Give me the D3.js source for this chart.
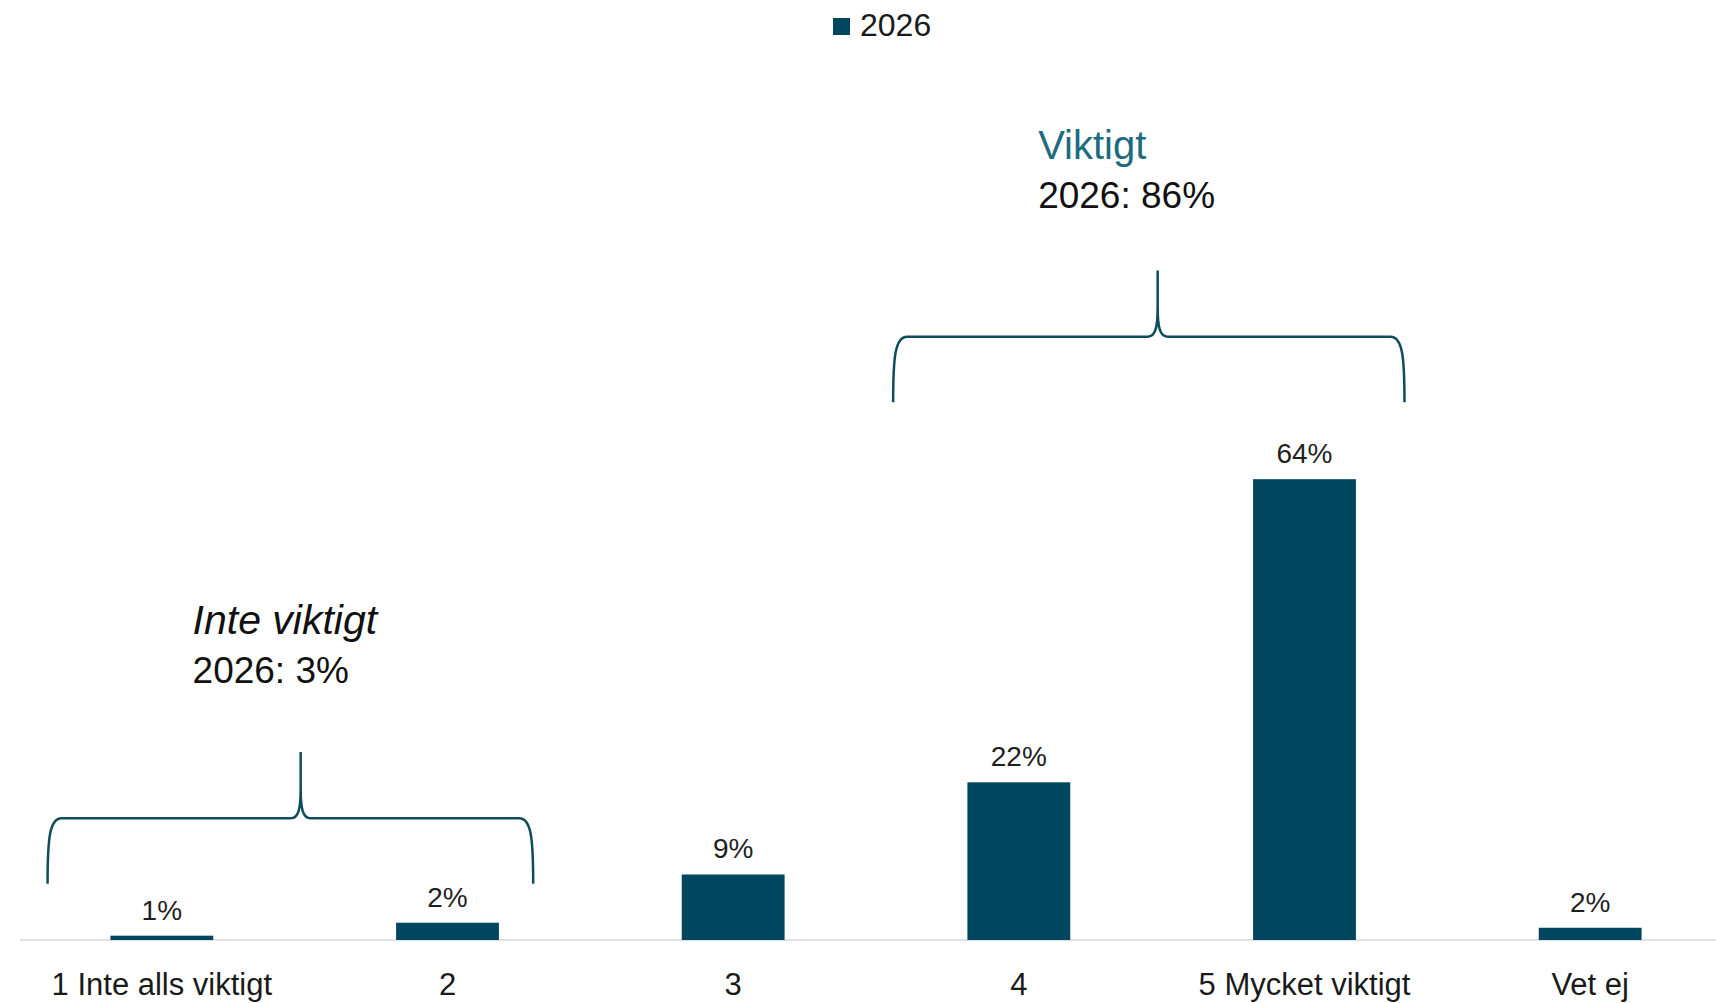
<!DOCTYPE html>
<html>
<head>
<meta charset="utf-8">
<script src="https://cdn.jsdelivr.net/npm/d3@7"></script>
<style>
  html, body { margin: 0; padding: 0; background: #fff; }
  svg { display: block; font-family: "Liberation Sans", Arial, sans-serif; }
</style>
</head>
<body>
<div class="chart"></div>
<script>
var width = 1716,
    height = 1003;

// data
var categories = ["1 Inte alls viktigt", "2", "3", "4", "5 Mycket viktigt", "Vet ej"];
var values2026 = [0.6, 2.4, 9.1, 21.9, 64.0, 1.7];
var valueLabels = ["1%", "2%", "9%", "22%", "64%", "2%"];
var seriesName = "2026";

// grouped annotations (brace over categories)
var groupTitles = ["Inte viktigt", "Viktigt"];
var groupTexts = ["2026: 3%", "2026: 86%"];
var groupFrom = [0, 3];
var groupTo = [1, 4];
var groupBase = [7.8, 74.7];     // brace foot, in % on the y scale
var groupLabelAt = [42.5, 108.5]; // title baseline, in % on the y scale

var barColor = "#00465f",
    braceColor = "#0f4d5c";

var svg = d3.select('.chart')
    .append("svg")
    .attr("width", width)
    .attr("height", height);

var x = d3.scaleBand()
    .domain(categories)
    .range([19, 1733])
    .paddingInner(0.64)
    .paddingOuter(0.32);

var y = d3.scaleLinear()
    .domain([0, 100])
    .range([940, 220]);

var step = x.step();
function xc(i) { return x(categories[i]) + x.bandwidth() / 2; }

// baseline
svg.append("line")
    .attr("x1", 20).attr("x2", width)
    .attr("y1", y(0)).attr("y2", y(0))
    .style("stroke", "#d9d9d9")
    .style("stroke-width", 1.5);

// bars
svg.append("g")
    .selectAll("rect")
    .data(values2026)
    .enter().append("rect")
    .attr("x", function (d, i) { return x(categories[i]); })
    .attr("y", function (d) { return y(d); })
    .attr("width", x.bandwidth())
    .attr("height", function (d) { return y(0) - y(d); })
    .style("fill", barColor);

// value labels
svg.append("g")
    .selectAll("text")
    .data(values2026)
    .enter().append("text")
    .attr("x", function (d, i) { return xc(i); })
    .attr("y", function (d) { return y(d) - 16; })
    .attr("text-anchor", "middle")
    .style("font-size", "28px")
    .style("fill", "#1f1f1f")
    .text(function (d, i) { return valueLabels[i]; });

// category labels
var xAxis = d3.axisBottom(x).tickSize(0).tickPadding(0);
var gx = svg.append("g")
    .attr("transform", "translate(0," + y(0) + ")")
    .call(xAxis);
gx.select(".domain").remove();
gx.selectAll("text")
    .attr("dy", null)
    .attr("y", 55)
    .style("font-size", "31px")
    .style("font-family", "Liberation Sans, Arial, sans-serif")
    .style("fill", "#1a1a1a");

// legend
var legend = svg.append("g");
legend.append("rect")
    .attr("x", 833).attr("y", 18)
    .attr("width", 17).attr("height", 17)
    .style("fill", barColor);
legend.append("text")
    .attr("x", 860).attr("y", 36)
    .style("font-size", "32px")
    .style("fill", "#1a1a1a")
    .text(seriesName);

// braces + group text
function bracePath(l, r, tip, foot, h, top) {
    var p = d3.path();
    p.moveTo(l, foot);
    p.bezierCurveTo(l, h + 20, l + 2, h, l + 14, h);
    p.lineTo(tip - 10, h);
    p.bezierCurveTo(tip - 2, h, tip, h - 10, tip, h - 30);
    p.lineTo(tip, top);
    p.moveTo(tip, h - 30);
    p.bezierCurveTo(tip, h - 10, tip + 2, h, tip + 10, h);
    p.lineTo(r - 14, h);
    p.bezierCurveTo(r - 2, h, r, h + 20, r, foot);
    return p.toString();
}

var braceLeft = [0.40, 0.44],
    braceRight = [0.30, 0.35];

groupTitles.forEach(function (t, g) {
    var a = groupFrom[g], b = groupTo[g];
    var l = xc(a) - braceLeft[g] * step,
        r = xc(b) + braceRight[g] * step,
        tip = (xc(a) + xc(b)) / 2 - 4;
    var foot = y(groupBase[g]),
        h = y(groupBase[g] + 9.1),
        top = y(groupBase[g] + 18.3);

    svg.append("path")
        .attr("d", bracePath(l, r, tip, foot, h, top))
        .style("fill", "none")
        .style("stroke", braceColor)
        .style("stroke-width", 2.5);

    var tx = l + 145,
        ty = y(groupLabelAt[g]);
    svg.append("text")
        .attr("x", tx).attr("y", ty)
        .style("font-size", g == 0 ? "41px" : "40px")
        .style("font-style", g == 0 ? "italic" : "normal")
        .style("fill", g == 0 ? "#111" : "#1d6b80")
        .text(t);
    svg.append("text")
        .attr("x", tx).attr("y", ty + 49)
        .style("font-size", "37px")
        .style("fill", "#111")
        .text(groupTexts[g]);
});
</script>
</body>
</html>
